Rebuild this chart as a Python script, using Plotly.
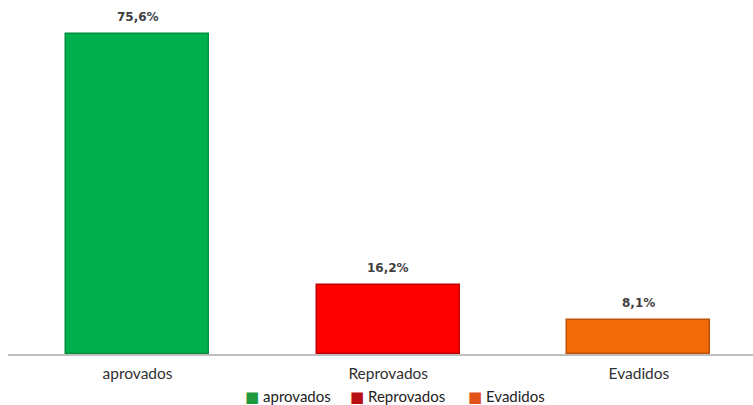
import plotly.graph_objects as go

categories = ["aprovados", "Reprovados", "Evadidos"]
values = [75.6, 16.2, 8.1]
labels = ["75,6%", "16,2%", "8,1%"]
colors = ["#00B04F", "#FF0000", "#F06A0A"]
borders = ["#00903C", "#C00000", "#C05008"]
legend_colors = ["#1E9A3C", "#B81010", "#E2531A"]
legend_x_px = [243, 348, 466]

L, R, T, B = 8, 0, 20, 51
W, H = 753, 405
pw = W - L - R

fig = go.Figure()
for i, c in enumerate(categories):
    fig.add_trace(go.Bar(
        x=[i], y=[values[i]], name=c, width=0.57,
        marker=dict(color=colors[i], line=dict(color=borders[i], width=1.5)),
        showlegend=False,
    ))
    fig.add_annotation(
        x=i, y=values[i], xref="x", yref="y", text=labels[i], showarrow=False,
        yanchor="bottom", yshift=8,
        font=dict(family="DejaVu Sans", size=12, color="#404040", weight="bold"),
    )
    fig.add_annotation(
        x=(legend_x_px[i] - L) / pw, y=(H - B - 396) / (H - T - B),
        xref="paper", yref="paper", xanchor="left", yanchor="middle",
        text=f"<span style='color:{legend_colors[i]};font-family:DejaVu Sans'>■</span> {c}",
        showarrow=False, font=dict(family="Lato", size=15, color="#222222"),
    )

fig.update_layout(
    width=W, height=H,
    margin=dict(l=L, r=R, t=T, b=B, autoexpand=False),
    paper_bgcolor="white", plot_bgcolor="white",
    font=dict(family="Lato, Liberation Sans, sans-serif", size=15.5, color="#303030"),
    showlegend=False,
    bargap=0,
)
fig.update_xaxes(
    tickmode="array", tickvals=[0, 1, 2], ticktext=categories,
    range=[-0.5166, 2.455], showline=True, linecolor="#BFBFBF", linewidth=1.5,
    showgrid=False, zeroline=False, ticks="", ticklabelstandoff=5, automargin=False,
    tickfont=dict(size=15.5, color="#303030"),
)
fig.update_yaxes(range=[0, 78.9], visible=False, showgrid=False, automargin=False)

fig.write_html("out.html", config={"displayModeBar": False},
               post_script="document.body.style.margin='0';")
